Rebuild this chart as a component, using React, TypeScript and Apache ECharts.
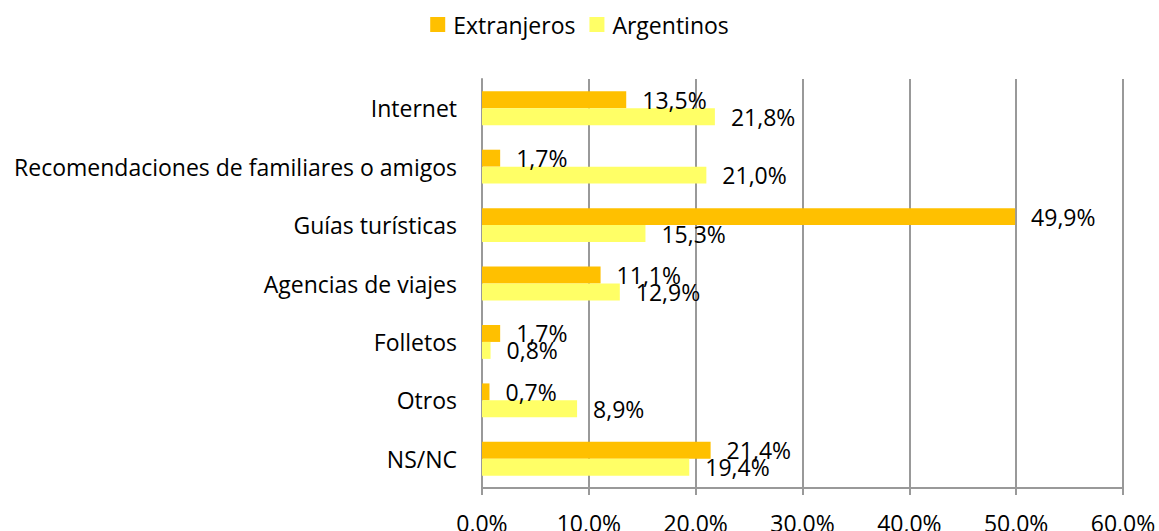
import React, { useEffect, useRef } from "react";
import * as echarts from "echarts";

const categories = [
  "Internet",
  "Recomendaciones de familiares o amigos",
  "Guías turísticas",
  "Agencias de viajes",
  "Folletos",
  "Otros",
  "NS/NC",
];
const extranjeros = [13.5, 1.7, 49.9, 11.1, 1.7, 0.7, 21.4];
const argentinos = [21.8, 21.0, 15.3, 12.9, 0.8, 8.9, 19.4];
const seriesNames = ["Extranjeros", "Argentinos"];

const FONT = "Open Sans";
const FS = 23;
const fmt = (v: number) => v.toFixed(1).replace(".", ",") + "%";

export default function App() {
  const ref = useRef<HTMLDivElement>(null);
  useEffect(() => {
    if (!ref.current) return;
    const chart = echarts.init(ref.current, undefined, { renderer: "svg" });
    const labelStyle = {
      show: true,
      position: "right" as const,
      distance: 16,
      color: "#000",
      fontFamily: FONT,
      fontSize: FS,
      formatter: (p: any) => fmt(p.value),
    };
    chart.setOption({
      animation: false,
      textStyle: { fontFamily: FONT },
      legend: {
        data: seriesNames,
        top: 8,
        left: "center",
        itemWidth: 15,
        itemHeight: 15,
        itemGap: 14,
        itemStyle: { borderWidth: 0 },
        icon: "rect",
        textStyle: { fontFamily: FONT, fontSize: FS, color: "#000", padding: [0, 0, 0, 3] },
      },
      grid: {
        left: 482,
        right: 36,
        top: 79,
        bottom: 43,
        containLabel: false,
        outerBoundsMode: "none",
      },
      xAxis: {
        type: "value",
        min: 0,
        max: 60,
        interval: 10,
        axisLine: { show: true, lineStyle: { color: "#999", width: 2 } },
        axisTick: { show: true, length: 7, lineStyle: { color: "#999", width: 2 } },
        splitLine: { show: true, lineStyle: { color: "#999", width: 2 } },
        axisLabel: {
          formatter: (v: number) => fmt(v),
          margin: 23,
          color: "#000",
          fontFamily: FONT,
          fontSize: FS,
        },
      },
      yAxis: {
        type: "category",
        data: categories,
        inverse: true,
        axisLine: { show: true, lineStyle: { color: "#999", width: 2 } },
        axisTick: { show: false },
        axisLabel: { margin: 25, color: "#000", fontFamily: FONT, fontSize: FS },
      },
      series: [
        {
          name: seriesNames[0],
          type: "bar",
          data: extranjeros,
          itemStyle: { color: "#FFC000" },
          barGap: "0%",
          barCategoryGap: "42%",
          label: labelStyle,
        },
        {
          name: seriesNames[1],
          type: "bar",
          data: argentinos,
          itemStyle: { color: "#FFFF66" },
          barGap: "0%",
          barCategoryGap: "42%",
          label: labelStyle,
        },
      ],
    });
    return () => chart.dispose();
  }, []);
  return (
    <div
      ref={ref}
      style={{ position: "absolute", left: 0, top: 0, width: 1159, height: 531 }}
    />
  );
}
